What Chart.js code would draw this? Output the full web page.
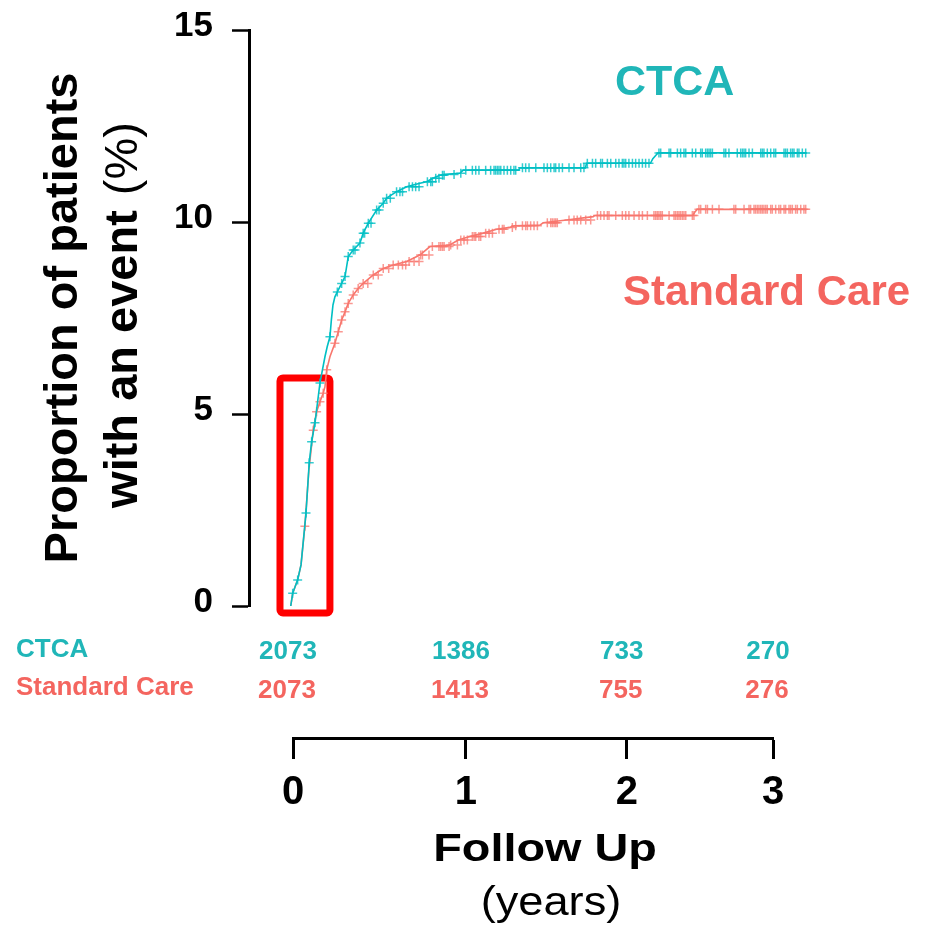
<!DOCTYPE html>
<html>
<head>
<meta charset="utf-8">
<title>Cumulative events: CTCA vs Standard Care</title>
<style>
  html, body { margin: 0; padding: 0; background: #ffffff; }
  #wrap { position: relative; width: 928px; height: 926px; }
  #wrap canvas { position: absolute; left: 0; top: 0; }
</style>
<script src="https://cdn.jsdelivr.net/npm/chart.js"></script>
</head>
<body>
<div id="wrap">
  <canvas id="km" width="928" height="926"></canvas>
  <canvas id="risk" width="928" height="926"></canvas>
</div>
<script>
// ---- data -------------------------------------------------------------
// cumulative proportion with an event (%), [years, percent]
const ctcaCurve = [
  [0,0],[0.012,0.33],[0.043,0.68],[0.064,1.07],[0.095,2.42],[0.115,3.73],[0.130,4.28],
  [0.151,4.77],[0.182,5.81],[0.213,6.49],[0.227,6.75],[0.244,7.01],[0.253,7.45],[0.263,7.84],
  [0.275,8.05],[0.290,8.18],[0.317,8.40],[0.338,8.58],[0.358,9.10],[0.389,9.27],[0.431,9.45],
  [0.451,9.71],[0.483,9.97],[0.535,10.31],[0.576,10.49],[0.597,10.62],[0.659,10.79],[0.722,10.92],
  [0.804,11.01],[0.846,11.05],[0.885,11.14],[0.929,11.22],[0.960,11.24],[1.054,11.27],[1.074,11.35],
  [1.420,11.35],[1.427,11.41],[1.835,11.41],[1.842,11.53],[2.240,11.53],[2.255,11.65],[2.274,11.74],
  [2.288,11.80],[3.212,11.80]
];
const standardCurve = [
  [0,0],[0.012,0.33],[0.043,0.68],[0.064,1.07],[0.088,2.08],[0.113,3.54],[0.140,4.58],
  [0.161,5.06],[0.182,5.32],[0.202,5.54],[0.213,5.71],[0.224,6.15],[0.244,6.49],[0.275,6.84],
  [0.296,7.14],[0.317,7.45],[0.338,7.66],[0.358,7.88],[0.389,8.10],[0.420,8.27],[0.451,8.40],
  [0.514,8.62],[0.576,8.79],[0.638,8.88],[0.722,8.97],[0.804,9.14],[0.867,9.36],[0.991,9.40],
  [1.043,9.53],[1.115,9.62],[1.199,9.71],[1.282,9.81],[1.365,9.86],[1.396,9.90],[1.552,9.92],
  [1.572,9.98],[1.718,10.05],[1.884,10.14],[1.894,10.17],[2.504,10.17],[2.517,10.26],[2.532,10.33],
  [3.212,10.33]
];
// censoring times (years)
const ctcaCensor = [
  0.012,0.043,0.095,0.115,0.130,0.151,0.182,0.244,0.290,0.317,0.338,0.358,0.389,0.400,0.431,
  0.451,0.460,0.483,0.500,0.535,0.550,0.576,0.597,0.620,0.659,0.680,
  0.696,0.737,0.758,0.778,0.799,0.851,0.872,0.882,0.903,0.923,0.945,0.955,1.017,1.059,1.090,
  1.131,1.152,1.172,1.214,1.245,1.266,1.276,1.287,1.297,1.308,1.328,1.349,1.370,1.390,1.401,
  1.443,1.463,1.484,1.526,1.577,1.598,1.619,1.640,1.650,1.671,1.692,1.733,1.764,1.806,1.826,
  1.847,1.879,1.899,1.930,1.941,1.972,1.993,2.024,2.044,2.065,2.075,2.086,2.106,2.128,2.148,
  2.169,2.190,2.210,2.231,2.293,2.304,2.356,2.366,2.408,2.428,2.449,2.460,2.501,2.522,2.553,
  2.563,2.584,2.595,2.605,2.615,2.626,2.698,2.709,2.729,2.781,2.802,2.813,2.823,2.833,2.854,
  2.875,2.927,2.937,2.947,2.968,2.989,3.009,3.020,3.072,3.082,3.093,3.113,3.124,3.134,3.155,
  3.165,3.186,3.207
];
const standardCensor = [
  0.088,0.140,0.161,0.182,0.202,0.224,0.275,0.296,0.317,0.338,0.358,0.389,0.420,0.451,0.480,
  0.514,0.545,0.576,0.610,0.638,0.670,
  0.696,0.716,0.737,0.768,0.799,0.809,0.820,0.861,0.882,0.923,0.934,0.945,0.955,0.986,0.996,
  1.038,1.059,1.079,1.100,1.131,1.142,1.152,1.172,1.183,1.214,1.235,1.256,1.297,1.318,1.328,
  1.380,1.401,1.443,1.463,1.474,1.494,1.515,1.536,1.598,1.619,1.629,1.640,1.650,1.660,1.733,
  1.764,1.784,1.806,1.837,1.868,1.910,1.930,1.951,1.972,1.982,2.024,2.065,2.086,2.106,2.138,
  2.169,2.190,2.221,2.262,2.273,2.283,2.293,2.304,2.314,2.356,2.387,2.397,2.408,2.418,2.428,
  2.439,2.449,2.460,2.501,2.511,2.542,2.553,2.584,2.595,2.626,2.667,2.760,2.771,2.823,2.854,
  2.864,2.885,2.895,2.906,2.916,2.927,2.937,2.947,2.958,2.968,2.989,2.999,3.020,3.040,3.051,
  3.072,3.082,3.103,3.113,3.124,3.144,3.155,3.176,3.196,3.207
];
// highlighted early window (years / percent)
const focusWindow = { from: -0.067, to: 0.244, low: -0.18, high: 5.94 };

// axes and numbers at risk
const yTicks = [0, 5, 10, 15];
const yearLabels = ['0', '1', '2', '3'];
const atRiskCtca = [2073, 1386, 733, 270];
const atRiskStandard = [2073, 1413, 755, 276];

// ---- styling ----------------------------------------------------------
const FONT = '"Liberation Sans", Arial, Helvetica, sans-serif';
const TEAL = '#00BFC4';
const SALMON = '#F8766D';
const TEAL_TEXT = '#20B6B8';
const SALMON_TEXT = '#F4655F';
// where the year ticks sit along the follow-up ruler (ruler runs 0..3)
const yearTickPlacement = [0, 1.081, 2.086, 3];

function levelAt(curve, t) {
  let v = curve[0][1];
  for (const [x, y] of curve) {
    if (x <= t + 1e-9) v = y; else break;
  }
  return v;
}
const toXY = arr => arr.map(([x, y]) => ({ x, y }));
const marks = (curve, times) => times.map(t => ({ x: t, y: levelAt(curve, t) }));

function drawStretched(ctx, text, x, y, font, color, sx, align) {
  ctx.save();
  ctx.font = font;
  ctx.fillStyle = color;
  ctx.textAlign = align || 'center';
  ctx.textBaseline = 'alphabetic';
  ctx.translate(x, y);
  ctx.scale(sx, 1);
  ctx.fillText(text, 0, 0);
  ctx.restore();
}

// ---- main plot --------------------------------------------------------
const kmDecor = {
  id: 'kmDecor',
  beforeDatasetsDraw(chart) {
    const { ctx, scales: { x, y } } = chart;
    const l = x.getPixelForValue(focusWindow.from);
    const r = x.getPixelForValue(focusWindow.to);
    const t = y.getPixelForValue(focusWindow.high);
    const b = y.getPixelForValue(focusWindow.low);
    ctx.save();
    ctx.strokeStyle = '#FF0000';
    ctx.lineWidth = 7;
    ctx.lineJoin = 'round';
    ctx.beginPath();
    ctx.roundRect(l, t, r - l, b - t, 3);
    ctx.stroke();
    ctx.restore();
  },
  afterDraw(chart) {
    const ctx = chart.ctx;
    ctx.save();
    // rotated y-axis title
    ctx.fillStyle = '#000';
    ctx.textBaseline = 'alphabetic';
    ctx.translate(77, 318);
    ctx.rotate(-Math.PI / 2);
    ctx.font = 'bold 47px ' + FONT;
    ctx.textAlign = 'center';
    ctx.fillText('Proportion of patients', 0, 0);
    ctx.restore();

    ctx.save();
    ctx.fillStyle = '#000';
    ctx.textBaseline = 'alphabetic';
    ctx.translate(137, 315);
    ctx.rotate(-Math.PI / 2);
    const boldFont = 'bold 47px ' + FONT;
    const regFont = '47px ' + FONT;
    ctx.font = boldFont;
    const w1 = ctx.measureText('with an event').width;
    ctx.font = regFont;
    const w2 = ctx.measureText('(%)').width;
    const gap = 15;
    let start = -(w1 + gap + w2) / 2;
    ctx.textAlign = 'left';
    ctx.font = boldFont;
    ctx.fillText('with an event', start, 0);
    ctx.font = regFont;
    ctx.fillText('(%)', start + w1 + gap, 0);
    ctx.restore();

    // series names
    ctx.save();
    ctx.textAlign = 'left';
    ctx.textBaseline = 'alphabetic';
    ctx.font = 'bold 43px ' + FONT;
    ctx.fillStyle = TEAL_TEXT;
    ctx.fillText('CTCA', 615, 95);
    ctx.font = 'bold 42px ' + FONT;
    ctx.fillStyle = SALMON_TEXT;
    ctx.fillText('Standard Care', 623, 305);
    ctx.restore();
  }
};

new Chart(document.getElementById('km'), {
  type: 'scatter',
  data: {
    datasets: [
      {
        label: 'CTCA',
        data: toXY(ctcaCurve),
        showLine: true,
        borderColor: TEAL,
        borderWidth: 1.6,
        pointRadius: 0,
        clip: false,
        order: 1
      },
      {
        label: 'CTCA censored',
        data: marks(ctcaCurve, ctcaCensor),
        showLine: false,
        pointStyle: 'cross',
        pointRadius: 4.5,
        pointBorderWidth: 1.5,
        pointBorderColor: 'rgba(0,191,196,0.8)',
        clip: false,
        order: 2
      },
      {
        label: 'Standard Care',
        data: toXY(standardCurve),
        showLine: true,
        borderColor: SALMON,
        borderWidth: 1.6,
        pointRadius: 0,
        clip: false,
        order: 3
      },
      {
        label: 'Standard Care censored',
        data: marks(standardCurve, standardCensor),
        showLine: false,
        pointStyle: 'cross',
        pointRadius: 4.5,
        pointBorderWidth: 1.5,
        pointBorderColor: 'rgba(248,118,109,0.75)',
        clip: false,
        order: 4
      }
    ]
  },
  options: {
    responsive: false,
    animation: false,
    devicePixelRatio: 1,
    events: [],
    layout: { padding: { left: 0, top: 30, right: 117, bottom: 320 } },
    plugins: { legend: { display: false }, tooltip: { enabled: false } },
    scales: {
      x: { type: 'linear', display: false, min: -0.26, max: 3.24 },
      y: {
        type: 'linear',
        position: 'left',
        min: 0,
        max: 15,
        afterFit: s => { s.width = 249; s.paddingTop = 0; s.paddingBottom = 0; },
        afterBuildTicks: s => { s.ticks = yTicks.map(v => ({ value: v })); },
        ticks: {
          color: '#000',
          font: { family: FONT, size: 35, weight: 'bold' },
          padding: 19,
          labelOffset: -4
        },
        grid: {
          display: true,
          drawOnChartArea: false,
          drawTicks: true,
          tickLength: 17,
          tickWidth: 2.5,
          tickColor: '#000'
        },
        border: { display: true, color: '#000', width: 3 }
      }
    }
  },
  plugins: [kmDecor]
});

// ---- follow-up ruler and numbers at risk -----------------------------
const riskDecor = {
  id: 'riskDecor',
  afterDraw(chart) {
    const { ctx, scales: { x } } = chart;
    ctx.save();
    ctx.textBaseline = 'alphabetic';
    ctx.textAlign = 'left';
    ctx.font = 'bold 26px ' + FONT;
    ctx.fillStyle = TEAL_TEXT;
    ctx.fillText('CTCA', 16, 657);
    ctx.fillStyle = SALMON_TEXT;
    ctx.fillText('Standard Care', 16, 695);

    ctx.textAlign = 'center';
    ctx.font = 'bold 26px ' + FONT;
    atRiskCtca.forEach((n, i) => {
      ctx.fillStyle = TEAL_TEXT;
      ctx.fillText(String(n), x.getPixelForValue(yearTickPlacement[i]) - 5, 659);
    });
    atRiskStandard.forEach((n, i) => {
      ctx.fillStyle = SALMON_TEXT;
      ctx.fillText(String(n), x.getPixelForValue(yearTickPlacement[i]) - 6, 698);
    });
    ctx.restore();

    drawStretched(ctx, 'Follow Up', 545, 861, 'bold 39px ' + FONT, '#000', 1.2, 'center');
    drawStretched(ctx, '(years)', 551, 915, '40px ' + FONT, '#000', 1.13, 'center');
  }
};

new Chart(document.getElementById('risk'), {
  type: 'scatter',
  data: { datasets: [] },
  options: {
    responsive: false,
    animation: false,
    devicePixelRatio: 1,
    events: [],
    layout: { padding: { left: 293, right: 155, top: 690, bottom: 68 } },
    plugins: { legend: { display: false }, tooltip: { enabled: false } },
    scales: {
      x: {
        type: 'linear',
        position: 'bottom',
        min: 0,
        max: 3,
        afterBuildTicks: s => { s.ticks = yearTickPlacement.map(v => ({ value: v })); },
        afterFit: s => { s.height = 120; },
        ticks: {
          callback: (v, i) => yearLabels[i],
          color: '#000',
          font: { family: FONT, size: 40, weight: 'bold' },
          padding: 10,
          maxRotation: 0,
          autoSkip: false
        },
        grid: {
          display: true,
          drawOnChartArea: false,
          drawTicks: true,
          tickLength: 21,
          tickWidth: 3,
          tickColor: '#000'
        },
        border: { display: true, color: '#000', width: 3 }
      },
      y: { display: false, min: 0, max: 1 }
    }
  },
  plugins: [riskDecor]
});
</script>
</body>
</html>
